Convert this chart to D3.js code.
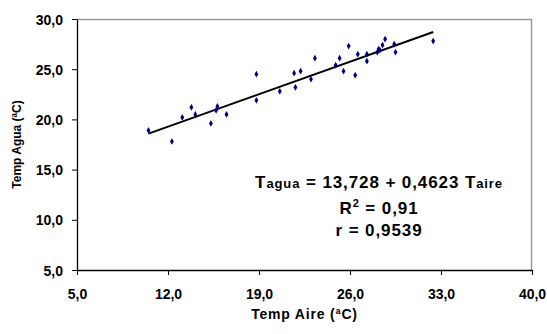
<!DOCTYPE html>
<html lang="en">
<head>
  <meta charset="utf-8">
  <script src="https://cdn.jsdelivr.net/npm/d3@7"></script>
  <style>
    body { margin: 0; background: #fff; }
    text { font-family: "Liberation Sans", Arial, sans-serif; font-weight: bold; fill: #000; }
  </style>
</head>
<body>
<svg id="chart" width="547" height="334"></svg>
<script>
  // air temp vs water temp (ºC)
  var tAire = [10.5, 12.3, 13.1, 13.8, 14.1, 15.3, 15.7, 15.8, 16.5, 18.8, 18.8,
               20.6, 21.7, 21.8, 22.2, 23.0, 23.3, 24.9, 25.2, 25.5, 25.9, 26.4,
               26.6, 27.3, 27.3, 28.1, 28.2, 28.3, 28.5, 28.7, 29.4, 29.5, 32.4];
  var tAgua = [18.9, 17.8, 20.2, 21.2, 20.5, 19.6, 20.9, 21.3, 20.5, 24.5, 21.9,
               22.8, 24.6, 23.2, 24.8, 24.0, 26.1, 25.4, 26.1, 24.8, 27.3, 24.4,
               26.5, 26.5, 25.8, 26.7, 27.0, 26.9, 27.4, 28.0, 27.5, 26.7, 27.8];
  var xTicks = [5, 12, 19, 26, 33, 40];
  var yTicks = [5, 10, 15, 20, 25, 30];
  var intercept = 13.728, slope = 0.4623;

  var svg = d3.select('#chart');
  var pLeft = 77, pRight = 532, pTop = 19, pBottom = 270;

  var x = d3.scaleLinear().domain([5, 40]).range([pLeft, pRight]);
  var y = d3.scaleLinear().domain([5, 30]).range([pBottom, pTop]);
  var fmt = function(d) { return d.toFixed(1).replace('.', ','); };

  // grey frame top / right
  svg.append('path')
    .attr('d', 'M' + pLeft + ',' + (pTop + 0.5) + 'H' + (pRight - 0.5) + 'V' + pBottom)
    .attr('fill', 'none').attr('stroke', '#999').attr('stroke-width', 1.5);

  var xAxis = svg.append('g')
    .attr('transform', 'translate(0,' + pBottom + ')')
    .call(d3.axisBottom(x).tickValues(xTicks).tickFormat(fmt).tickSize(5).tickSizeOuter(0));
  var yAxis = svg.append('g')
    .attr('transform', 'translate(' + pLeft + ',0)')
    .call(d3.axisLeft(y).tickValues(yTicks).tickFormat(fmt).tickSize(5).tickSizeOuter(0));

  [xAxis, yAxis].forEach(function(g) {
    g.select('.domain').attr('stroke', '#000').attr('stroke-width', 1.3);
    g.selectAll('.tick line').attr('stroke', '#000');
    g.selectAll('text').style('font-size', '14px').style('font-weight', 'bold')
      .style('font-family', '"Liberation Sans", Arial, sans-serif').attr('fill', '#000');
  });
  xAxis.selectAll('text').attr('dy', null).attr('y', 29);
  yAxis.selectAll('text').attr('x', -14).attr('dy', '0.36em');

  // trend line over data range
  var x0 = d3.min(tAire), x1 = d3.max(tAire);
  svg.append('line')
    .attr('x1', x(x0)).attr('y1', y(intercept + slope * x0))
    .attr('x2', x(x1)).attr('y2', y(intercept + slope * x1))
    .attr('stroke', '#000').attr('stroke-width', 2);

  svg.selectAll('path.pt')
    .data(tAire)
    .enter()
    .append('path')
    .attr('class', 'pt')
    .attr('d', d3.symbol().type(d3.symbolDiamond).size(13))
    .attr('transform', function(d, i) { return 'translate(' + x(d) + ',' + y(tAgua[i]) + ')'; })
    .attr('fill', '#000080');

  // axis titles
  svg.append('text')
    .attr('x', (pLeft + pRight) / 2).attr('y', 319)
    .attr('text-anchor', 'middle').style('font-size', '14px').style('letter-spacing', '0.8px')
    .text('Temp Aire (ªC)');
  svg.append('text')
    .attr('transform', 'translate(21,' + ((pTop + pBottom) / 2) + ') rotate(-90)')
    .attr('text-anchor', 'middle').style('font-size', '12px')
    .text('Temp Agua (ªC)');

  // equation box
  var eq = svg.append('text')
    .attr('x', 379).attr('y', 188).attr('text-anchor', 'middle')
    .style('font-size', '17px').style('letter-spacing', '0.9px');
  eq.append('tspan').text('T');
  eq.append('tspan').style('font-size', '13px').text('agua');
  eq.append('tspan').text(' = 13,728 + 0,4623 T');
  eq.append('tspan').style('font-size', '13px').text('aire');

  var r2 = svg.append('text')
    .attr('x', 379).attr('y', 214).attr('text-anchor', 'middle')
    .style('font-size', '17px').style('letter-spacing', '0.9px');
  r2.append('tspan').text('R');
  r2.append('tspan').attr('dy', -7).style('font-size', '11px').text('2');
  r2.append('tspan').attr('dy', 7).text(' = 0,91');

  svg.append('text')
    .attr('x', 379).attr('y', 236).attr('text-anchor', 'middle')
    .style('font-size', '17px').style('letter-spacing', '0.9px')
    .text('r = 0,9539');
</script>
</body>
</html>
